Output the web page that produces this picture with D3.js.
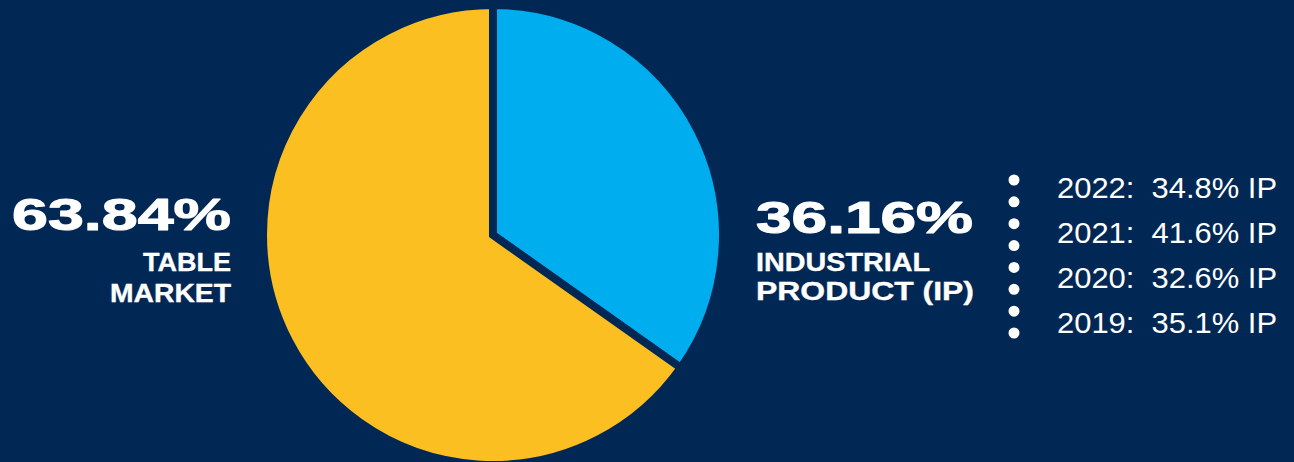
<!DOCTYPE html>
<html>
<head>
<meta charset="utf-8">
<script src="https://cdn.jsdelivr.net/npm/d3@7"></script>
<style>
  html, body { margin: 0; padding: 0; background: #012855; }
  svg { display: block; }
  text { font-family: "Liberation Sans", Arial, Helvetica, sans-serif; fill: #ffffff; }
</style>
</head>
<body>
<svg id="chart" width="1294" height="462"></svg>
<script>
// ---- data ----
const segments = ["Industrial Product (IP)", "Table Market"];
const segmentShares = [34.8, 65.2];          // slice sizes as drawn in the picture
const headlinePct = ["36.16%", "63.84%"];
const segmentLabelLines = [["INDUSTRIAL", "PRODUCT (IP)"], ["TABLE", "MARKET"]];
const years = ["2022", "2021", "2020", "2019"];
const ipShares = [34.8, 41.6, 32.6, 35.1];

// ---- styles ----
const W = 1294, H = 462;
const bg = "#012855";
const colors = d3.scaleOrdinal().domain(segments).range(["#00aeef", "#fcbf22"]);

const svg = d3.select("#chart");
svg.append("rect").attr("width", W).attr("height", H).attr("fill", bg);

// ---- pie ----
const cx = 493, cy = 235, rVis = 226, gap = 8;
const pie = d3.pie().sort(null).value(d => d.v).startAngle(0).endAngle(2 * Math.PI);
const arc = d3.arc().innerRadius(0).outerRadius(rVis + gap / 2);
const data = segments.map((s, i) => ({ s, v: segmentShares[i] }));

svg.append("g")
  .attr("transform", `translate(${cx},${cy})`)
  .selectAll("path")
  .data(pie(data))
  .join("path")
  .attr("d", arc)
  .attr("fill", d => colors(d.data.s))
  .attr("stroke", bg)
  .attr("stroke-width", gap)
  .attr("stroke-linejoin", "miter");

// ---- headline labels ----
function boldText(g, x, y, size, len, anchor, str, sw) {
  return g.append("text")
    .attr("x", x).attr("y", y)
    .attr("text-anchor", anchor)
    .attr("font-size", size).attr("font-weight", "bold")
    .attr("textLength", len).attr("lengthAdjust", "spacingAndGlyphs")
    .attr("stroke", "#ffffff").attr("stroke-width", sw)
    .attr("stroke-linejoin", "round")
    .text(str);
}
// left: Table Market (index 1), right: Industrial Product (index 0)
const left = svg.append("g");
boldText(left, 231, 230, 45, 219, "end", headlinePct[1], 1.1);
const leftLens = [88, 121];
segmentLabelLines[1].forEach((t, i) => {
  boldText(left, 231, 271 + i * 31, 25, leftLens[i], "end", t, 0.35);
});

const right = svg.append("g");
boldText(right, 756, 233, 45, 217, "start", headlinePct[0], 1.1);
const rightLens = [174, 218];
segmentLabelLines[0].forEach((t, i) => {
  boldText(right, 756, 271 + i * 29, 25, rightLens[i], "start", t, 0.35);
});

// ---- yearly list ----
const yRow = d3.scalePoint().domain(years).range([198, 333]);
svg.append("line")
  .attr("x1", 1014).attr("x2", 1014)
  .attr("y1", 180).attr("y2", 333.1)
  .attr("stroke", "#ffffff")
  .attr("stroke-width", 11)
  .attr("stroke-linecap", "round")
  .attr("stroke-dasharray", `0 ${153 / 7}`);

svg.append("g").selectAll("text")
  .data(years.map((y, i) => ({ y, v: ipShares[i] })))
  .join("text")
  .attr("x", 1057)
  .attr("y", d => yRow(d.y))
  .attr("font-size", 29)
  .attr("textLength", 220).attr("lengthAdjust", "spacingAndGlyphs")
  .style("white-space", "pre")
  .attr("xml:space", "preserve")
  .text(d => `${d.y}:  ${d.v.toFixed(1)}% IP`);
</script>
</body>
</html>
